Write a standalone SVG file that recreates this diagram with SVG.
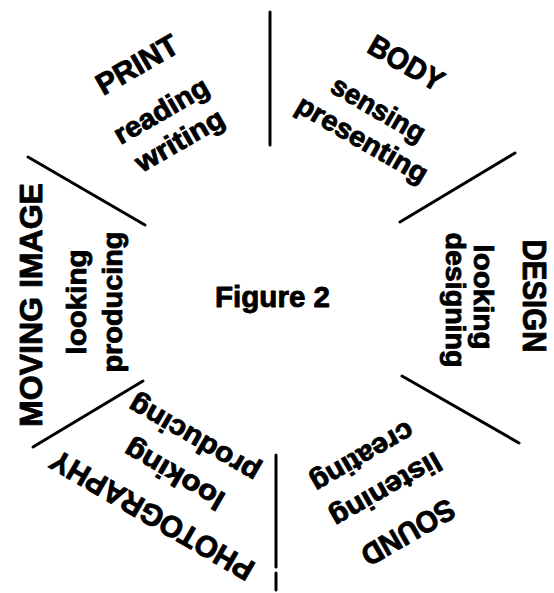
<svg xmlns="http://www.w3.org/2000/svg" width="554" height="593" viewBox="0 0 554 593">
<style>
text{font-family:"Liberation Sans",Arial,sans-serif;font-weight:bold;fill:#000;text-anchor:middle;stroke:#000;stroke-width:0.9;stroke-linejoin:round}
.h{font-size:30px}
.s{font-size:28px}
.l{stroke:#000;stroke-width:3;stroke-linecap:round;fill:none}
</style>
<rect width="554" height="593" fill="#fff"/>
<g id="dividers" class="l">
<line x1="270" y1="12" x2="270" y2="145"/>
<line x1="28" y1="157" x2="145" y2="225"/>
<line x1="400" y1="222" x2="515" y2="153"/>
<line x1="402" y1="376" x2="519" y2="443"/>
<line x1="143" y1="381" x2="33" y2="447"/>
<line x1="276" y1="455" x2="276" y2="567"/>
<line x1="276" y1="573" x2="276" y2="590"/>
</g>
<g id="center-label">
<text x="272.5" y="307" style="font-size:30px" textLength="115" lengthAdjust="spacingAndGlyphs">Figure 2</text>
</g>
<g id="print" transform="translate(274,300) rotate(-30)">
<text class="h" x="-1" y="-262" textLength="90" lengthAdjust="spacingAndGlyphs">PRINT</text>
<text class="s" x="-3" y="-211" textLength="105" lengthAdjust="spacingAndGlyphs">reading</text>
<text class="s" x="-2" y="-176" textLength="98" lengthAdjust="spacingAndGlyphs">writing</text>
</g>
<g id="body" transform="translate(274,300) rotate(30)">
<text class="h" x="-4" y="-261" textLength="82" lengthAdjust="spacingAndGlyphs">BODY</text>
<text class="s" x="-5" y="-208" textLength="104" lengthAdjust="spacingAndGlyphs">sensing</text>
<text class="s" x="-4" y="-174" textLength="147" lengthAdjust="spacingAndGlyphs">presenting</text>
</g>
<g id="design" transform="translate(274,300) rotate(90)">
<text class="h" x="-4" y="-249" style="font-size:33px" textLength="113" lengthAdjust="spacingAndGlyphs">DESIGN</text>
<text class="s" x="-3" y="-200" textLength="105" lengthAdjust="spacingAndGlyphs">looking</text>
<text class="s" x="0" y="-172" textLength="135" lengthAdjust="spacingAndGlyphs">designing</text>
</g>
<g id="sound" transform="translate(274,300) rotate(150)">
<text class="h" x="0" y="-258" textLength="103" lengthAdjust="spacingAndGlyphs">SOUND</text>
<text class="s" x="-2" y="-211" textLength="123" lengthAdjust="spacingAndGlyphs">listening</text>
<text class="s" x="2" y="-171" textLength="114" lengthAdjust="spacingAndGlyphs">creating</text>
</g>
<g id="photography" transform="translate(274,300) rotate(-150)">
<text class="h" x="-2" y="-237" textLength="230" lengthAdjust="spacingAndGlyphs">PHOTOGRAPHY</text>
<text class="s" x="-1" y="-192" textLength="111" lengthAdjust="spacingAndGlyphs">looking</text>
<text class="s" x="0" y="-151" textLength="146" lengthAdjust="spacingAndGlyphs">producing</text>
</g>
<g id="moving-image" transform="translate(274,300) rotate(-90)">
<text class="h" x="-5" y="-232" style="font-size:32px" textLength="244" lengthAdjust="spacingAndGlyphs">MOVING IMAGE</text>
<text class="s" x="-2" y="-188" textLength="105" lengthAdjust="spacingAndGlyphs">looking</text>
<text class="s" x="-2" y="-152" textLength="141" lengthAdjust="spacingAndGlyphs">producing</text>
</g>
</svg>
